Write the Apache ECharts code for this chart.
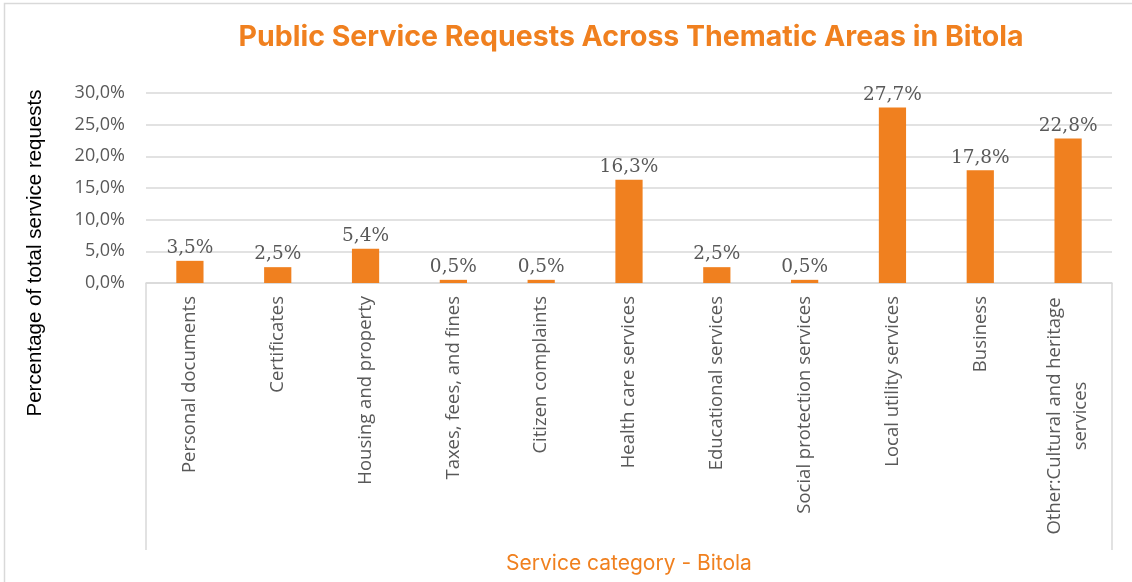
<!DOCTYPE html>
<html>
<head>
<meta charset="utf-8">
<script src="https://cdn.jsdelivr.net/npm/echarts@6/dist/echarts.min.js"></script>
<style>
  html, body { margin: 0; padding: 0; background: #ffffff; }
  #chart { width: 1132px; height: 582px; }
</style>
</head>
<body>
<div id="chart"></div>
<script>
// Service categories and their share of all requests (%)
const categories = [
  'Personal documents',
  'Certificates',
  'Housing and property',
  'Taxes, fees, and fines',
  'Citizen complaints',
  'Health care services',
  'Educational services',
  'Social protection services',
  'Local utility services',
  'Business',
  'Other:Cultural and heritage\nservices'
];
const shares = [3.5, 2.5, 5.4, 0.5, 0.5, 16.3, 2.5, 0.5, 27.7, 17.8, 22.8];
const yTicks = { min: 0, max: 30, step: 5 };

const ORANGE = '#F0801F';
const GRAY_TEXT = '#595959';
const GRID_LINE = '#d9d9d9';

const GRID = { left: 146, right: 20, top: 93, bottom: 299 };
const W = 1132, H = 582;

const pct = v => v.toFixed(1).replace('.', ',') + '%';

const chart = echarts.init(document.getElementById('chart'), null, { renderer: 'canvas' });

chart.setOption({
  backgroundColor: '#ffffff',
  animation: false,
  title: {
    text: 'Public Service Requests Across Thematic Areas in Bitola',
    left: 626,
    top: 18,
    textAlign: 'center',
    textStyle: {
      color: ORANGE,
      fontFamily: 'Inter',
      fontWeight: 'bold',
      fontSize: 28.5
    }
  },
  grid: GRID,
  xAxis: {
    type: 'category',
    data: categories,
    name: 'Service category - Bitola',
    nameLocation: 'middle',
    nameGap: 270,
    nameTextStyle: { color: ORANGE, fontFamily: 'Inter', fontSize: 21 },
    axisLine: { lineStyle: { color: GRID_LINE, width: 1.5 } },
    axisTick: { show: false },
    axisLabel: {
      rotate: 90,
      interval: 0,
      margin: 13,
      color: GRAY_TEXT,
      fontFamily: 'Open Sans',
      fontSize: 18.5,
      lineHeight: 26,
      // two-line labels are centred line by line inside a common block
      formatter: v => v.indexOf('\n') < 0
        ? v
        : v.split('\n').map(s => '{c|' + s + '}').join('\n'),
      rich: {
        c: { width: 240, align: 'center', color: GRAY_TEXT, fontFamily: 'Open Sans', fontSize: 18.5, lineHeight: 26 }
      }
    }
  },
  yAxis: {
    type: 'value',
    min: yTicks.min,
    max: yTicks.max,
    interval: yTicks.step,
    axisLine: { show: false },
    axisTick: { show: false },
    splitLine: { lineStyle: { color: GRID_LINE, width: 1.5 } },
    axisLabel: {
      margin: 21,
      color: GRAY_TEXT,
      fontFamily: 'Open Sans',
      fontSize: 18,
      formatter: pct
    }
  },
  series: [{
    type: 'bar',
    data: shares,
    barWidth: '31%',
    itemStyle: { color: ORANGE },
    label: {
      show: true,
      position: 'top',
      distance: 3,
      color: GRAY_TEXT,
      fontFamily: 'DejaVu Serif',
      fontSize: 18.5,
      formatter: p => pct(p.value)
    }
  }],
  graphic: [
    // outer frame of the chart area
    {
      type: 'rect',
      shape: { x: 4.5, y: 3.5, width: W + 20, height: H + 20 },
      style: { fill: 'none', stroke: GRID_LINE, lineWidth: 1.5 },
      silent: true
    },
    // side rules enclosing the category labels
    {
      type: 'line',
      shape: { x1: GRID.left, y1: H - GRID.bottom, x2: GRID.left, y2: 550 },
      style: { stroke: GRID_LINE, lineWidth: 1.5 },
      silent: true
    },
    {
      type: 'line',
      shape: { x1: W - GRID.right, y1: H - GRID.bottom, x2: W - GRID.right, y2: 550 },
      style: { stroke: GRID_LINE, lineWidth: 1.5 },
      silent: true
    },
    // value axis title
    {
      type: 'text',
      x: 35,
      y: 253,
      rotation: Math.PI / 2,
      style: {
        text: 'Percentage of total service requests',
        fill: '#000000',
        fontFamily: 'Liberation Sans',
        fontSize: 20.5,
        textAlign: 'center',
        textVerticalAlign: 'middle'
      }
    }
  ]
});
</script>
</body>
</html>
